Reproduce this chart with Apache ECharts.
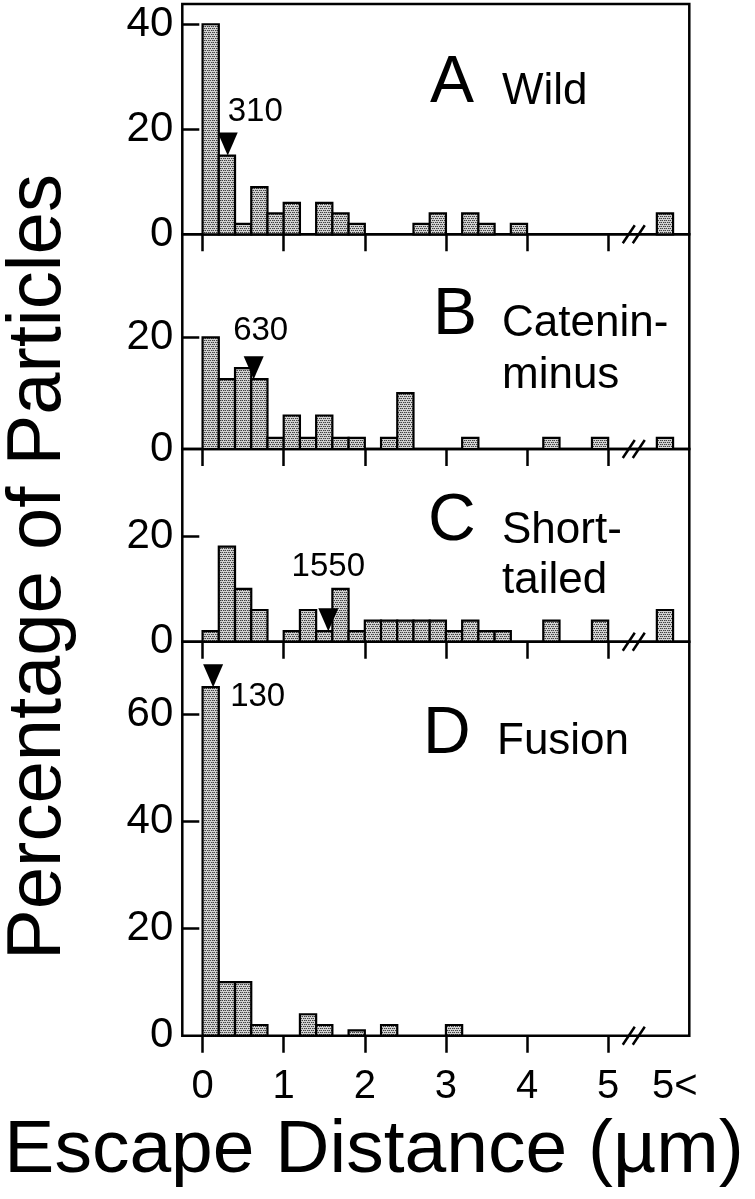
<!DOCTYPE html>
<html><head><meta charset="utf-8">
<script src="https://cdn.jsdelivr.net/npm/echarts@6/dist/echarts.min.js"></script>
<style>html,body{margin:0;padding:0;background:#fff}#c{width:755px;height:1199px}</style>
</head><body><div id="c"></div>
<script>
// ---------------- DATA ----------------
const binWidth = 0.2;                       // µm
const binStarts = [0,0.2,0.4,0.6,0.8,1.0,1.2,1.4,1.6,1.8,2.0,2.2,2.4,2.6,2.8,3.0,3.2,3.4,3.6,3.8,4.0,4.2,4.4,4.6,4.8];
const overflowBinStart = 5.6;               // the "5<" bin drawn after the axis break
const breakValue = 5.34;                    // where the "//" break sits on the axis
const xTickValues = [0,1,2,3,4,5];
const xLabelValues = [0,1,2,3,4,5,5.82];
const xTickLabels = ['0','1','2','3','4','5','5<'];

const wildValues     = [40,15,2,9,4,6,0,6,4,2,0,0,0,2,4,0,4,2,0,2,0,0,0,0,0];
const wildOver5      = 4;
const cateninValues  = [20,12.5,14.5,12.5,2,6,2,6,2,2,0,2,10,0,0,0,2,0,0,0,0,2,0,0,2];
const cateninOver5   = 2;
const shortValues    = [2,18,10,6,0,2,6,2,10,2,4,4,4,4,4,2,4,2,2,0,0,4,0,0,4];
const shortOver5     = 6;
const fusionValues   = [65,10,10,2,0,0,4,2,0,1,0,2,0,0,0,2,0,0,0,0,0,0,0,0,0];
const fusionOver5    = 0;

const panelLetters = ['A','B','C','D'];
const panelNames   = [['Wild'], ['Catenin-','minus'], ['Short-','tailed'], ['Fusion']];
const medianValues = [0.31, 0.63, 1.55, 0.13];   // µm
const medianLabels = ['310','630','1550','130']; // nm

const yTickValues  = [[20,40],[20],[20],[20,40,60]];
const yLabelValues = [[0,20,40],[0,20],[0,20],[0,20,40,60]];

const xTitle = 'Escape Distance (\u00b5m)';
const yTitle = 'Percentage of Particles';

// ---------------- LAYOUT / STYLE ----------------
const FONT = '"Liberation Sans", Arial, Helvetica, sans-serif';
const gridTops    = [4, 234.3, 449, 641.7];
const gridHeights = [230.3, 214.7, 192.7, 394];
const yMaxes      = [43.86, 38.45, 36.46, 73.48];
const gridLeft = 182.3, gridRight = 755 - 689.3;
// median label placement relative to arrow tip
const medianLabelLayout = [
  {dx: 0,  dy: -27, align: 'left',   vAlign: 'bottom'},
  {dx: 7,  dy: -32, align: 'center', vAlign: 'bottom'},
  {dx: 0,  dy: -48, align: 'center', vAlign: 'bottom'},
  {dx: 17, dy: 10,  align: 'left',   vAlign: 'middle'}
];
const letterLayout = [
  {lx: 430, ly: 84,  nx: 502, ny: [92]},
  {lx: 433, ly: 316, nx: 502, ny: [324, 376]},
  {lx: 428, ly: 522, nx: 502, ny: [531, 581]},
  {lx: 423, ly: 735, nx: 497, ny: [742]}
];

// stipple pattern
const pc = document.createElement('canvas');
pc.width = 4; pc.height = 4;
const pctx = pc.getContext('2d');
pctx.fillStyle = '#d2d2d2'; pctx.fillRect(0,0,4,4);
pctx.fillStyle = '#404040';
pctx.fillRect(0,0,1,1); pctx.fillRect(2,0,1,1); pctx.fillRect(1,2,1,1); pctx.fillRect(3,2,1,1);
pctx.fillStyle = '#909090';
pctx.fillRect(1,0,1,1); pctx.fillRect(0,2,1,1);
const stipple = {image: pc, repeat: 'repeat'};

const allValues = [wildValues, cateninValues, shortValues, fusionValues];
const allOver5  = [wildOver5, cateninOver5, shortOver5, fusionOver5];

const grids = [], xAxes = [], yAxes = [], series = [], graphics = [];

for (let g = 0; g < 4; g++) {
  grids.push({left: gridLeft, right: gridRight, top: gridTops[g], height: gridHeights[g],
    show: true, borderColor: '#000', borderWidth: 2.5, backgroundColor: 'transparent', containLabel: false});
  xAxes.push({type: 'value', gridIndex: g, min: -0.25, max: 6.0,
    axisLine: {show: false, onZero: false}, splitLine: {show: false},
    axisTick: {show: true, customValues: xTickValues, length: 17, lineStyle: {color: '#000', width: 2.5}},
    axisLabel: {show: g === 3, customValues: xLabelValues, margin: 31, fontSize: 40, color: '#000', fontFamily: FONT,
      formatter: v => { const i = xLabelValues.findIndex(t => Math.abs(t - v) < 1e-6); return i >= 0 ? xTickLabels[i] : ''; }}
  });
  yAxes.push({type: 'value', gridIndex: g, min: 0, max: yMaxes[g],
    axisLine: {show: false, onZero: false}, splitLine: {show: false},
    axisTick: {show: true, inside: true, customValues: yTickValues[g], length: 17, lineStyle: {color: '#000', width: 2.5}},
    axisLabel: {show: true, customValues: yLabelValues[g], margin: 9, fontSize: 42, color: '#000', fontFamily: FONT}
  });

  // bars
  const vals = allValues[g];
  const data = [];
  vals.forEach((v, i) => { if (v > 0) data.push([binStarts[i], v]); });
  if (allOver5[g] > 0) data.push([overflowBinStart, allOver5[g]]);
  series.push({type: 'custom', xAxisIndex: g, yAxisIndex: g, data: data, clip: false, z: 2,
    renderItem: (params, api) => {
      const x0 = api.value(0), v = api.value(1);
      const p0 = api.coord([x0, 0]), p1 = api.coord([x0 + binWidth, v]);
      return {type: 'rect', shape: {x: p0[0], y: p1[1], width: p1[0] - p0[0], height: p0[1] - p1[1]},
        style: {fill: stipple, stroke: '#000', lineWidth: 2.2}};
    }});

  // axis break marks
  series.push({type: 'custom', xAxisIndex: g, yAxisIndex: g, data: [[breakValue, 0]], clip: false, z: 5,
    renderItem: (params, api) => {
      const p = api.coord([api.value(0), api.value(1)]);
      return {type: 'group', children: [
        {type: 'line', shape: {x1: p[0] - 13, y1: p[1] + 9, x2: p[0] - 1, y2: p[1] - 9}, style: {stroke: '#000', lineWidth: 2.5}},
        {type: 'line', shape: {x1: p[0] - 3, y1: p[1] + 9, x2: p[0] + 9, y2: p[1] - 9}, style: {stroke: '#000', lineWidth: 2.5}}
      ]};
    }});

  // median arrow + label
  const m = medianValues[g];
  const mv = vals[Math.floor(m / binWidth + 1e-9)];
  const lay = medianLabelLayout[g];
  series.push({type: 'custom', xAxisIndex: g, yAxisIndex: g, data: [[m, mv]], clip: false, z: 6,
    renderItem: (params, api) => {
      const p = api.coord([api.value(0), api.value(1)]);
      return {type: 'group', children: [
        {type: 'polygon', shape: {points: [[p[0] - 10, p[1] - 23], [p[0] + 10, p[1] - 23], [p[0], p[1]]]}, style: {fill: '#000'}},
        {type: 'text', x: p[0] + lay.dx, y: p[1] + lay.dy,
          style: {text: medianLabels[g], fontSize: 33, fontFamily: FONT, fill: '#000', align: lay.align, verticalAlign: lay.vAlign}}
      ]};
    }});

  // panel letters and names
  const L = letterLayout[g];
  graphics.push({type: 'text', x: L.lx, y: L.ly, style: {text: panelLetters[g], fontSize: 66, fontFamily: FONT, fill: '#000', align: 'left', verticalAlign: 'middle'}});
  panelNames[g].forEach((line, k) => {
    graphics.push({type: 'text', x: L.nx, y: L.ny[k], style: {text: line, fontSize: 44, fontFamily: FONT, fill: '#000', align: 'left', verticalAlign: 'middle'}});
  });
}

graphics.push({type: 'text', x: 374, y: 1151, style: {text: xTitle, fontSize: 75, fontFamily: FONT, fill: '#000', align: 'center', verticalAlign: 'middle'}});
graphics.push({type: 'text', x: 39, y: 567, rotation: Math.PI / 2, style: {text: yTitle, fontSize: 76, fontFamily: FONT, fill: '#000', align: 'center', verticalAlign: 'middle'}});

const chart = echarts.init(document.getElementById('c'), null, {renderer: 'canvas'});
chart.setOption({
  animation: false,
  backgroundColor: '#fff',
  grid: grids, xAxis: xAxes, yAxis: yAxes, series: series, graphic: graphics
});
</script></body></html>
